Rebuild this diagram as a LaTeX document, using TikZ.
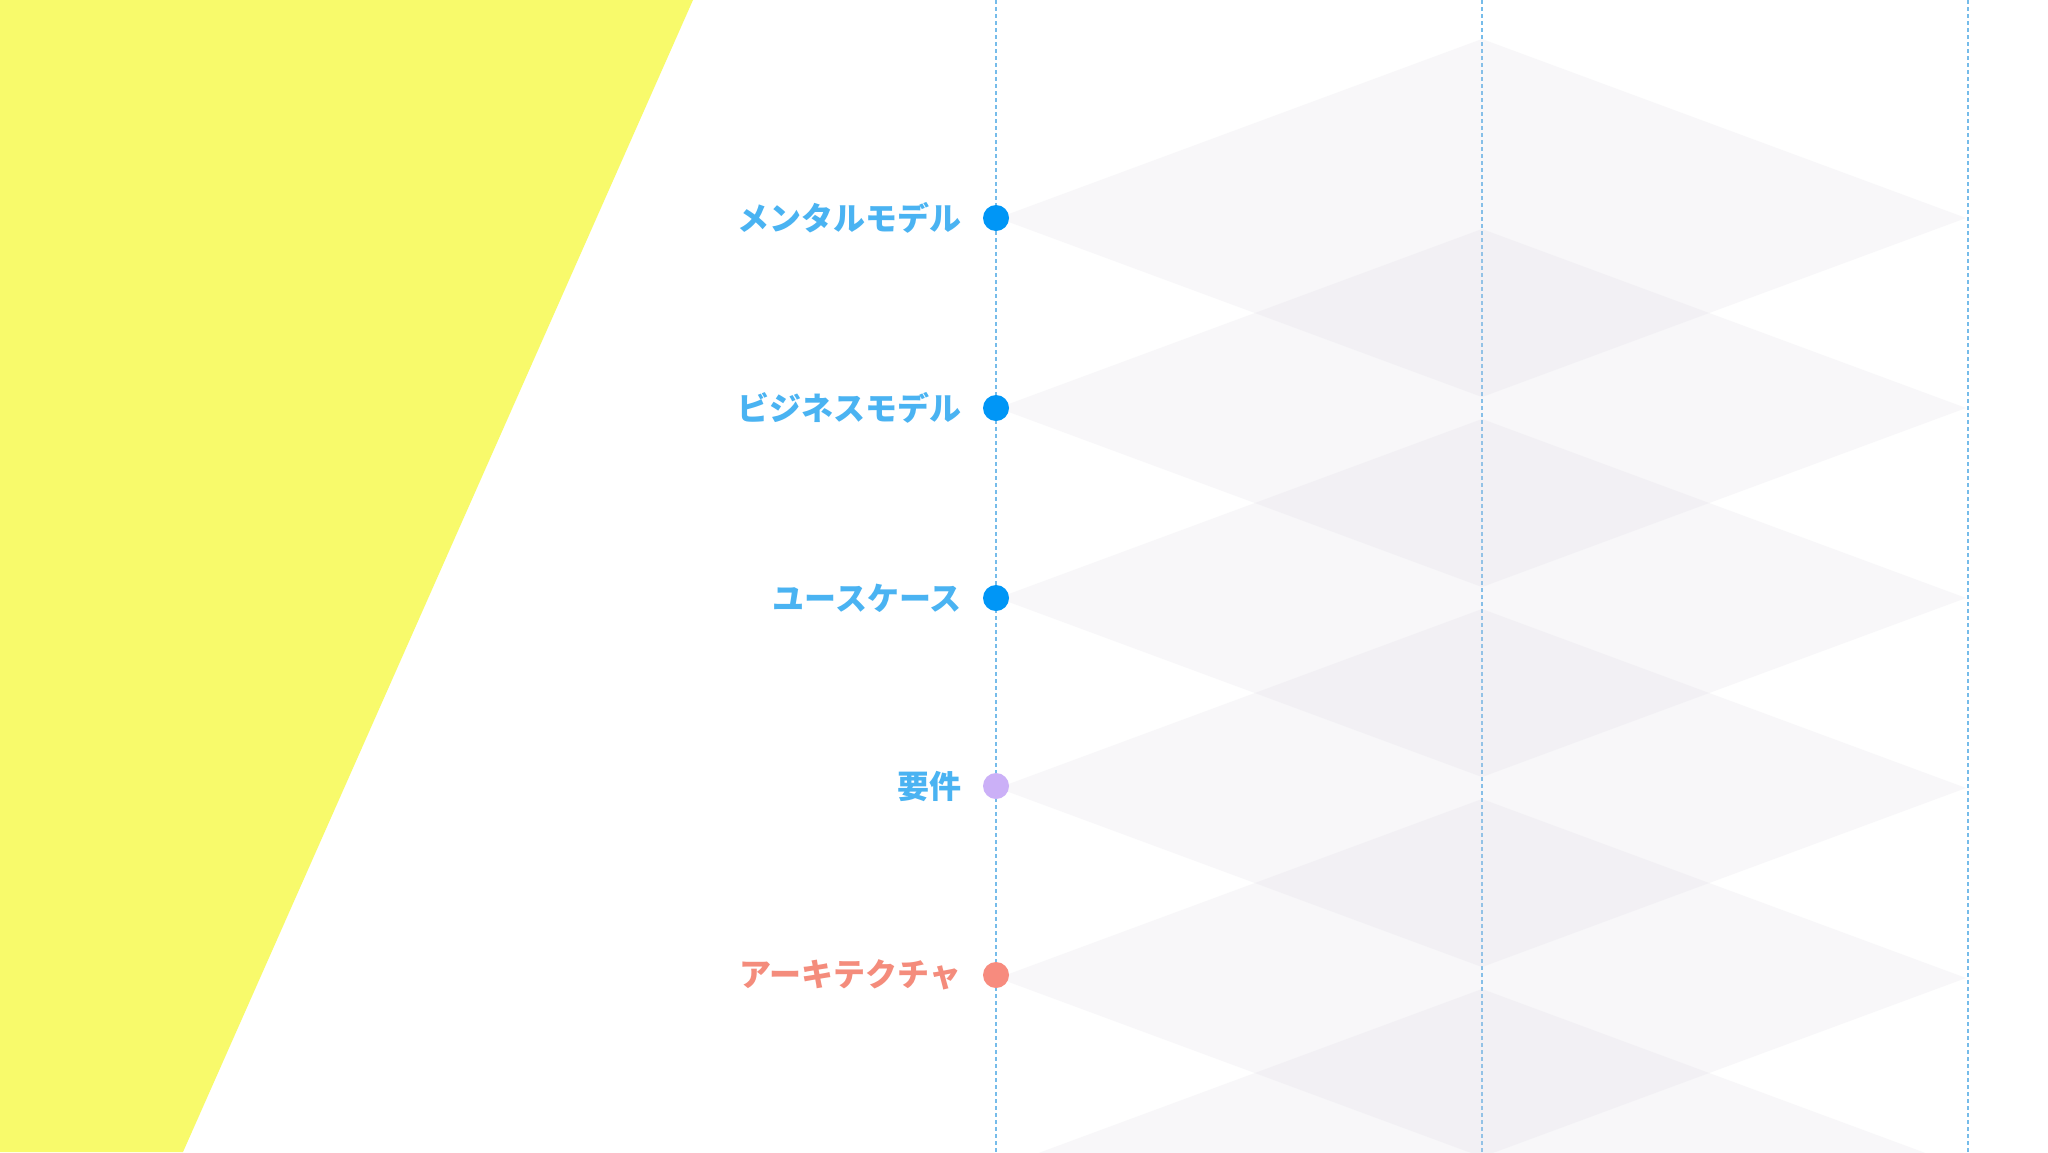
\documentclass[tikz,border=0pt]{standalone}
\usepackage{fontspec}
\usepackage{tikz}
\usetikzlibrary{positioning}
\newfontfamily\cjk{Noto Sans CJK JP}
\definecolor{lemon}{RGB}{248, 250, 107}
\definecolor{guideblue}{RGB}{118, 188, 234}
\definecolor{tilegrey}{RGB}{214, 210, 223}
\definecolor{dotblue}{RGB}{0, 150, 246}
\definecolor{dotlilac}{RGB}{203, 176, 247}
\definecolor{dotsalmon}{RGB}{247, 139, 126}
\definecolor{labelblue}{RGB}{74, 179, 242}
\definecolor{labelsalmon}{RGB}{244, 140, 124}
\tikzset{
  guide/.style={guideblue, line width=1.6pt, dash pattern=on 4pt off 3pt},
  tile/.style={fill=tilegrey, fill opacity=0.17},
  stagedot/.style={circle, minimum size=26pt, inner sep=0pt},
  stagelabel/.style={font=\cjk\bfseries\fontsize{32}{32}\selectfont, inner sep=0pt, anchor=east}
}
\begin{document}
\begin{tikzpicture}[x=1pt, y=-1pt]
  \useasboundingbox (0,0) rectangle (2048,1152);
  \fill [white] (0,0) rectangle (2048,1152);

  \fill [lemon] (0,0) -- (693,0) -- (183,1152) -- (0,1152) -- cycle;

  \foreach \x / \name in {996/left, 1482/mid, 1968/right}
  {
    \coordinate (\name top) at (\x,0);
    \coordinate (\name bottom) at (\x,1152);
    \draw [guide] (\name top) -- (\name bottom);
  }

  % stacked diamonds
  \foreach \y in {218,408,...,1168}
  {
    \fill [tile] (1482,\y-179) -- (1966,\y) -- (1482,\y+179) -- (998,\y) -- cycle;
  }

  \foreach \n / \y / \txt / \dotc / \txtc in
  {
    1/218/メンタルモデル/dotblue/labelblue,
    2/408/ビジネスモデル/dotblue/labelblue,
    3/598/ユースケース/dotblue/labelblue,
    4/786/要件/dotlilac/labelblue,
    5/975/アーキテクチャ/dotsalmon/labelsalmon}
  {
    \node [stagedot, fill=\dotc] (dot\n) at (996,\y) {};
    \node [stagelabel, text=\txtc, left=21pt of dot\n] (label\n) {\txt};
  }
\end{tikzpicture}
\end{document}
